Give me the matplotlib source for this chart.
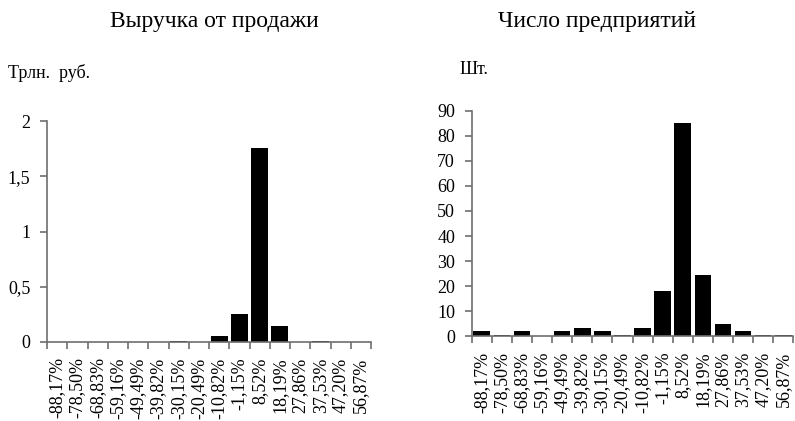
import matplotlib
matplotlib.use("Agg")
import matplotlib.pyplot as plt
import numpy as np

plt.rcParams['font.family'] = ['Liberation Serif', 'DejaVu Serif']

# интервалы темпа прироста
intervals = ["-88,17%", "-78,50%", "-68,83%", "-59,16%", "-49,49%", "-39,82%",
             "-30,15%", "-20,49%", "-10,82%", "-1,15%", "8,52%", "18,19%",
             "27,86%", "37,53%", "47,20%", "56,87%"]

# выручка, трлн. руб.
revenue = [0, 0, 0, 0, 0, 0, 0.01, 0, 0.05, 0.256, 1.76, 0.147, 0, 0.01, 0, 0]
# число предприятий, шт.
firms = [2, 0.5, 2, 0, 2, 3.3, 2, 0.5, 3.3, 18.2, 85.2, 24.5, 4.9, 2, 0.5, 0.5]

rev_ticks = [0, 0.5, 1, 1.5, 2]
rev_ticklabels = ["0", "0,5", "1", "1,5", "2"]
firm_ticks = list(range(0, 91, 10))

W, H = 795, 421
fig = plt.figure(figsize=(W / 100, H / 100), dpi=100)
axcol = "#6e6e6e"


def make_axes(x0, x1, y0, y1):
    # координаты в пикселях от левого верхнего угла
    return fig.add_axes([x0 / W, (H - y0) / H, (x1 - x0) / W, (y0 - y1) / H])


def draw(ax, values, ymax, yticks, yticklabels):
    x = np.arange(len(intervals))
    ax.bar(x, values, width=0.83, color="black")
    ax.set_xlim(-0.5, len(intervals) - 0.5)
    ax.set_ylim(0, ymax)
    for s in ["top", "right"]:
        ax.spines[s].set_visible(False)
    for s in ["left", "bottom"]:
        ax.spines[s].set_color(axcol)
        ax.spines[s].set_linewidth(1.2)
    ax.set_yticks(yticks, yticklabels)
    ax.tick_params(axis="y", length=5, color=axcol, width=1.2, labelsize=13, pad=7)
    ax.set_xticks(x, intervals, rotation=90)
    ax.tick_params(axis="x", which="major", length=0, labelsize=13, pad=11)
    ax.set_xticks(np.arange(len(intervals) + 1) - 0.5, minor=True)
    ax.tick_params(axis="x", which="minor", length=5, color=axcol, width=1.2)


ax1 = make_axes(47, 371, 342, 121)
draw(ax1, revenue, 2, rev_ticks, rev_ticklabels)

ax2 = make_axes(471.7, 793.3, 336.3, 110.7)
draw(ax2, firms, 90, firm_ticks, [str(t) for t in firm_ticks])

fig.text(214 / W, 1 - 22 / H, "Выручка от продажи", ha="center", va="center", fontsize=17)
fig.text(597 / W, 1 - 22 / H, "Число предприятий", ha="center", va="center", fontsize=17)
fig.text(8 / W, 1 - 73 / H, "Трлн.  руб.", ha="left", va="center", fontsize=13)
fig.text(460 / W, 1 - 70 / H, "Шт.", ha="left", va="center", fontsize=13)

fig.savefig("out.png", dpi=100)
